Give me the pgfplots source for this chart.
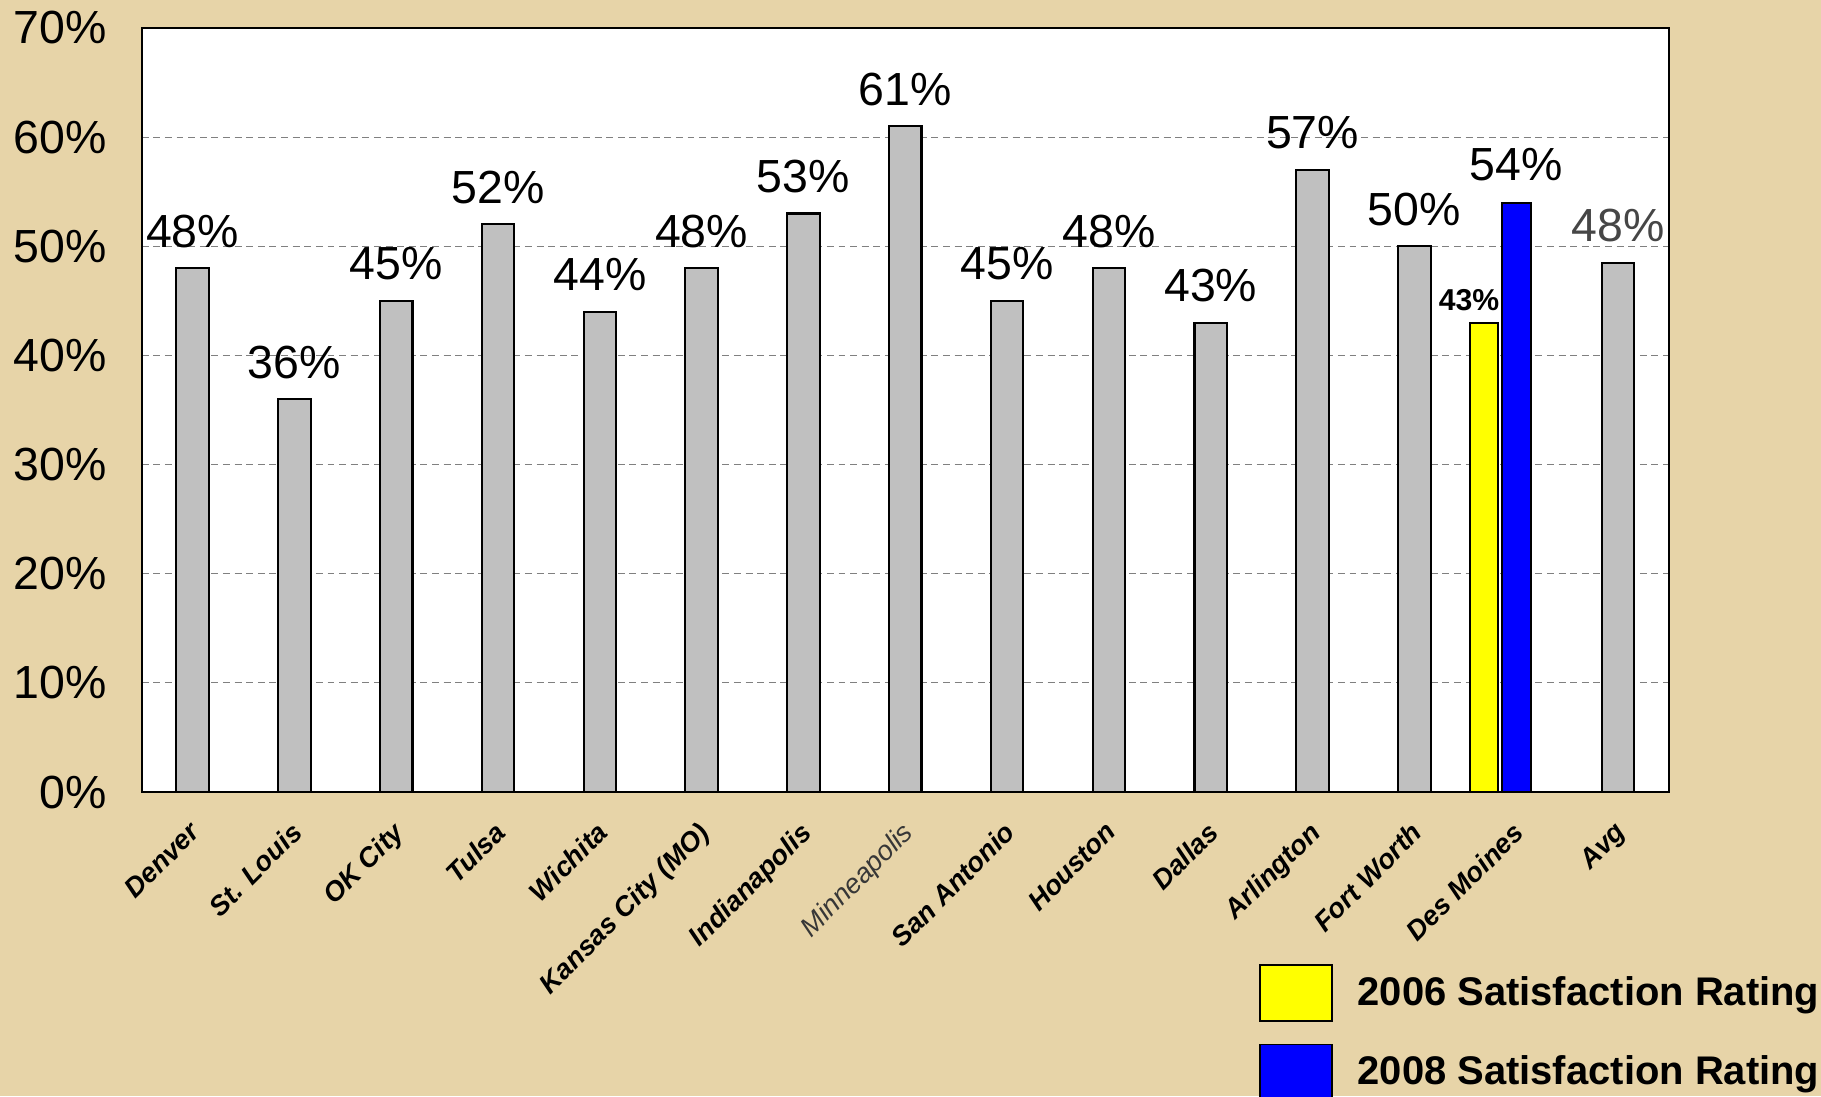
\documentclass[border=0pt]{standalone}
\usepackage{pgfplots}
\pgfplotsset{compat=1.18}
\usepackage{fontspec}
\setmainfont{Liberation Sans}
\definecolor{bg}{RGB}{231,212,168}
\definecolor{barg}{RGB}{192,192,192}
\definecolor{avgtxt}{RGB}{70,70,70}
\definecolor{mpgray}{RGB}{55,55,55}
\definecolor{ylw}{RGB}{255,255,0}
\definecolor{blu}{RGB}{0,0,255}
\begin{document}
\begin{tikzpicture}
\fill[bg] (0,0) rectangle (784pt,-472pt);
\begin{axis}[
  at={(61pt,-341pt)}, anchor=south west,
  scale only axis, width=657.5pt, height=329pt,
  xmin=-0.5, xmax=14.5, ymin=0, ymax=70,
  axis background/.style={fill=white},
  axis line style={line width=1pt, black},
  ytick={0,10,20,30,40,50,60,70},
  yticklabels={0\%,10\%,20\%,30\%,40\%,50\%,60\%,70\%},
  ymajorgrids,
  grid style={densely dashed, gray, line width=0.35pt},
  major tick length=0pt,
  xtick={0,...,14},
  xticklabels={Denver,St. Louis,OK City,Tulsa,Wichita,Kansas City (MO),Indianapolis,{\mdseries\color{mpgray}Minneapolis},San Antonio,Houston,Dallas,Arlington,Fort Worth,Des Moines,Avg},
  x tick label style={xshift=-2pt, yshift=-12pt, rotate=45, anchor=north east, inner sep=0pt, font=\bfseries\itshape\fontsize{11.8}{14}\selectfont},
  y tick label style={anchor=east, inner sep=0pt, xshift=-15pt, font=\fontsize{20}{24}\selectfont},
  point meta=explicit symbolic,
  nodes near coords,
  every node near coord/.append style={anchor=south, inner sep=0pt, yshift=8.4pt, font=\fontsize{20}{24}\selectfont},
  legend style={at={(0.7316,-0.225)}, anchor=north west, draw=none, fill=none, inner sep=0pt, row sep=9.5pt, font=\bfseries\fontsize{17.2}{20}\selectfont, nodes={inner sep=0pt}},
  legend cell align=left,
  clip=false,
]
\addplot[ybar, bar width=14pt, bar shift=0pt, fill=barg, draw=black, line width=0.9pt, forget plot] coordinates {
 (0,48) [48\%]
 (1,36) [36\%]
 (2,45) [45\%]
 (3,52) [52\%]
 (4,44) [44\%]
 (5,48) [48\%]
 (6,53) [53\%]
 (7,61) [61\%]
 (8,45) [45\%]
 (9,48) [48\%]
 (10,43) [43\%]
 (11,57) [57\%]
 (12,50) [50\%]
};
\addplot[ybar, bar width=14pt, bar shift=0pt, fill=barg, draw=black, line width=0.9pt, forget plot,
  every node near coord/.append style={text=avgtxt}] coordinates {
 (14,48.5) [48\%]
};
\addplot[ybar, bar width=12pt, bar shift=0pt, fill=ylw, draw=black, line width=0.9pt,
  every node near coord/.append style={font=\bfseries\fontsize{13}{15}\selectfont, xshift=-6.5pt, yshift=-3.6pt},
  legend image code/.code={\draw[fill=ylw, draw=black, line width=0.6pt] (0pt,-12pt) rectangle (31pt,12pt); \path (41.5pt,0pt);}] coordinates {
 (12.686,43) [43\%]
};
\addlegendentry{2006 Satisfaction Rating}
\addplot[ybar, bar width=12.5pt, bar shift=0pt, fill=blu, draw=black, line width=0.9pt,
  every node near coord/.append style={yshift=0.4pt},
  legend image code/.code={\draw[fill=blu, draw=black, line width=0.6pt] (0pt,-12pt) rectangle (31pt,12pt); \path (41.5pt,0pt);}] coordinates {
 (13,54) [54\%]
};
\addlegendentry{2008 Satisfaction Rating}
\end{axis}
\pgfresetboundingbox
\useasboundingbox (0,0) rectangle (784pt,-472pt);
\end{tikzpicture}
\end{document}
